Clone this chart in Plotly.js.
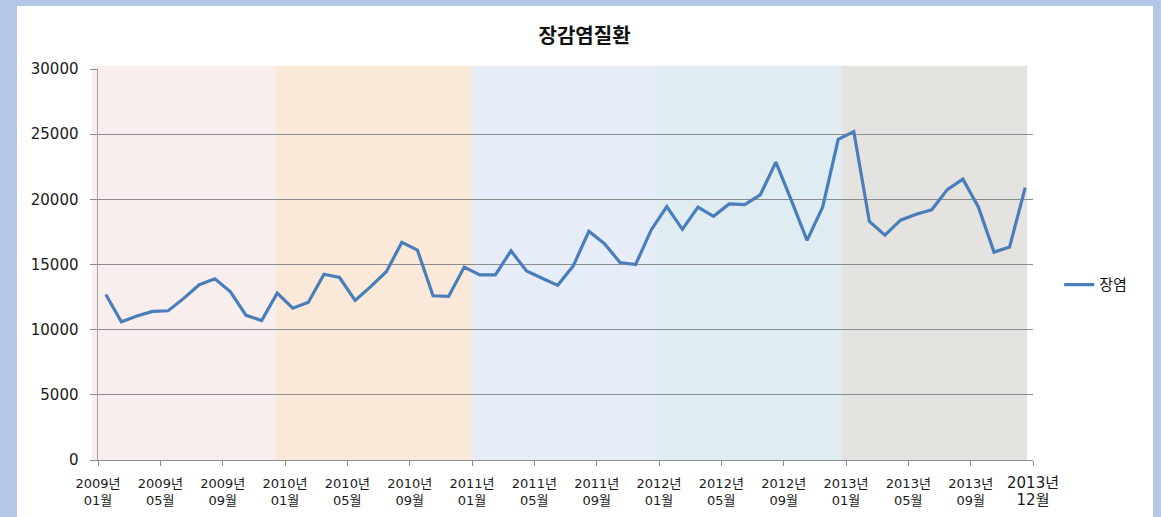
<!DOCTYPE html>
<html>
<head>
<meta charset="utf-8">
<script src="https://cdn.plot.ly/plotly-3.0.1.min.js"></script>
<style>
  html, body { margin: 0; padding: 0; background: #B4C7E7; width: 1161px; height: 517px; overflow: hidden; }
  #chart { position: absolute; left: 17px; top: 6px; width: 1136px; height: 511px; background: #fff; }
</style>
</head>
<body>
<div id="chart"></div>
<script>
const months = [
  "2009-01","2009-02","2009-03","2009-04","2009-05","2009-06","2009-07","2009-08","2009-09","2009-10","2009-11","2009-12",
  "2010-01","2010-02","2010-03","2010-04","2010-05","2010-06","2010-07","2010-08","2010-09","2010-10","2010-11","2010-12",
  "2011-01","2011-02","2011-03","2011-04","2011-05","2011-06","2011-07","2011-08","2011-09","2011-10","2011-11","2011-12",
  "2012-01","2012-02","2012-03","2012-04","2012-05","2012-06","2012-07","2012-08","2012-09","2012-10","2012-11","2012-12",
  "2013-01","2013-02","2013-03","2013-04","2013-05","2013-06","2013-07","2013-08","2013-09","2013-10","2013-11","2013-12"
];
const cases = [
  12700, 10600, 11050, 11400, 11450, 12400, 13450, 13900, 12900, 11100, 10700, 12800,
  11650, 12100, 14250, 14000, 12250, 13300, 14450, 16700, 16100, 12600, 12550, 14800,
  14200, 14200, 16050, 14500, 13950, 13400, 14900, 17550, 16600, 15150, 15000, 17650,
  19450, 17700, 19400, 18700, 19650, 19600, 20350, 22850, 19900, 16850, 19400, 24600,
  25200, 18300, 17250, 18400, 18850, 19200, 20750, 21550, 19400, 15950, 16350, 20900
];
const seriesName = "장염";
const tickMonths = ["2009-01","2009-05","2009-09","2010-01","2010-05","2010-09","2011-01","2011-05","2011-09","2012-01","2012-05","2012-09","2013-01","2013-05","2013-09"];
const tickLabels = ["2009년<br>01월","2009년<br>05월","2009년<br>09월","2010년<br>01월","2010년<br>05월","2010년<br>09월","2011년<br>01월","2011년<br>05월","2011년<br>09월","2012년<br>01월","2012년<br>05월","2012년<br>09월","2013년<br>01월","2013년<br>05월","2013년<br>09월"];
const endLabel = "2013년<br>12월";
const bandColors = ["#F8EEEE", "#FAE9D9", "#E6EDF8", "#DFECF1", "#E4E3DF"];

const FONT = '"DejaVu Sans", "Noto Sans CJK KR", sans-serif';
const KFONT = '"Noto Sans CJK KR", "Noto Sans", sans-serif';
const xIdx = months.map((m, i) => i);
const tickvals = tickMonths.map(m => months.indexOf(m) - 0.5).concat([months.length - 0.5]);
const ticktext = tickLabels.concat(['<span style="font-size:15px">' + endLabel + '</span>']);

// band edges (paper coords, styling only)
const bandEdges = [-0.0064, 0.1904, 0.4, 0.5979, 0.7957, 0.9936];
const shapes = bandColors.map((c, i) => ({
  type: 'rect', xref: 'paper', yref: 'paper',
  x0: bandEdges[i], x1: bandEdges[i + 1], y0: 0, y1: 1.008,
  fillcolor: c, line: {width: 0}, layer: 'below'
}));

const trace = {
  x: xIdx, y: cases, type: 'scatter', mode: 'lines', name: seriesName,
  line: {color: '#4A7EBB', width: 3.2},
  hovertemplate: '%{text}: %{y}<extra></extra>', text: months
};

const layout = {
  width: 1136, height: 511,
  margin: {l: 81, r: 120, t: 63, b: 56.5},
  paper_bgcolor: '#ffffff', plot_bgcolor: '#ffffff',
  font: {family: FONT, color: '#1a1a1a', size: 13},
  title: {text: '<b>장감염질환</b>', font: {size: 20, family: KFONT, color: '#111'},
          x: 0.4996, xref: 'container', y: 1 - 30 / 511, yref: 'container', yanchor: 'middle'},
  xaxis: {
    range: [-0.5, 59.5], tickmode: 'array', tickvals: tickvals, ticktext: ticktext,
    ticks: 'outside', ticklen: 5, tickcolor: '#8c8c8c', tickwidth: 1,
    showline: true, linecolor: '#8c8c8c', linewidth: 1,
    showgrid: false, zeroline: false, tickangle: 0, ticklabelstandoff: 6,
    tickfont: {size: 13, family: FONT, color: '#1a1a1a'}, fixedrange: true
  },
  yaxis: {
    range: [0, 30000], tick0: 0, dtick: 5000, tickformat: 'd',
    ticks: 'outside', ticklen: 7, tickcolor: '#8c8c8c', tickwidth: 1,
    showgrid: true, gridcolor: '#8c8c8c', gridwidth: 1,
    showline: true, linecolor: '#a9a0a0', linewidth: 1.5,
    zeroline: false, ticklabelstandoff: 8,
    tickfont: {size: 15, family: FONT, color: '#1a1a1a'}, fixedrange: true
  },
  showlegend: true,
  legend: {x: 1.028, xanchor: 'left', y: 0.448, yanchor: 'middle',
           font: {size: 15, family: KFONT, color: '#111'}, bgcolor: 'rgba(0,0,0,0)'},
  shapes: shapes
};

Plotly.newPlot('chart', [trace], layout, {displayModeBar: false, staticPlot: true});
</script>
</body>
</html>
